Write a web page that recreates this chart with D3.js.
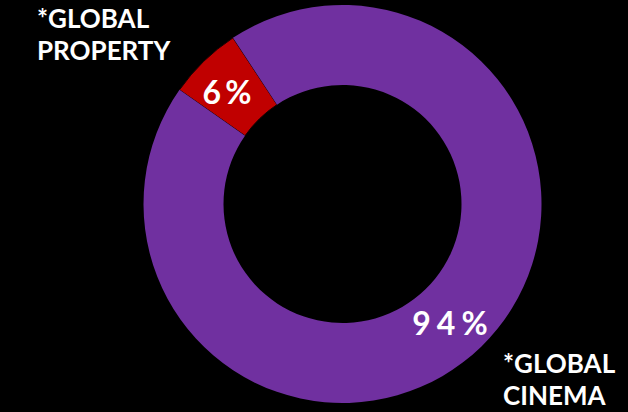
<!DOCTYPE html>
<html>
<head>
<meta charset="utf-8">
<script src="https://cdn.jsdelivr.net/npm/d3@7"></script>
<style>
  html, body { margin: 0; padding: 0; background: #000; }
  svg { display: block; }
  text { font-family: Lato, "Open Sans", sans-serif; font-weight: bold; fill: #fff; }
</style>
</head>
<body>
<svg id="chart" width="628" height="412"></svg>
<script>
// Revenue split by segment (percent)
const segments = ["*GLOBAL PROPERTY", "*GLOBAL CINEMA"];
const shares = [6, 94];
const valueLabels = ["6%", "94%"];
const colors = ["#C00000", "#7030A0"];
const nameLines = [["*GLOBAL", "PROPERTY"], ["*GLOBAL", "CINEMA"]];

const W = 628, H = 412;
const cx = 342.5, cy = 204;
const outerR = 199, innerR = 119;

const svg = d3.select("#chart");
svg.append("rect").attr("width", W).attr("height", H).attr("fill", "#000");

const color = d3.scaleOrdinal().domain(segments).range(colors);

const startDeg = -55;
const pie = d3.pie()
  .sort(null)
  .value(d => d.value)
  .startAngle(startDeg * Math.PI / 180)
  .endAngle((startDeg + 360) * Math.PI / 180);

const data = segments.map((s, i) => ({ name: s, value: shares[i], label: valueLabels[i], lines: nameLines[i] }));
const arcs = pie(data);

const arc = d3.arc().innerRadius(innerR).outerRadius(outerR);

const g = svg.append("g").attr("transform", `translate(${cx},${cy})`);

g.selectAll("path.slice")
  .data(arcs)
  .join("path")
  .attr("class", "slice")
  .attr("d", arc)
  .attr("fill", d => color(d.data.name))
  .attr("stroke", (d, i) => i === 0 ? "#1a0000" : "none")
  .attr("stroke-width", 1);

// percentage labels inside the ring
g.selectAll("text.pct")
  .data(arcs)
  .join("text")
  .attr("class", "pct")
  .attr("text-anchor", "middle")
  .style("font-size", "32px")
  .style("letter-spacing", (d, i) => i === 0 ? "4px" : "6px")
  .attr("x", (d, i) => i === 0 ? (229 - cx) : (453 - cx))
  .attr("y", (d, i) => i === 0 ? (104 - cy) : (335 - cy))
  .text(d => d.data.label);

// segment names
const namePos = [{ x: 37, y: 28 }, { x: 503, y: 373 }];
data.forEach((d, i) => {
  const t = svg.append("text")
    .attr("x", namePos[i].x)
    .attr("y", namePos[i].y)
    .style("font-size", "26px");
  d.lines.forEach((line, j) => {
    t.append("tspan")
      .attr("x", namePos[i].x)
      .attr("dy", j === 0 ? 0 : 32)
      .text(line);
  });
});
</script>
</body>
</html>
